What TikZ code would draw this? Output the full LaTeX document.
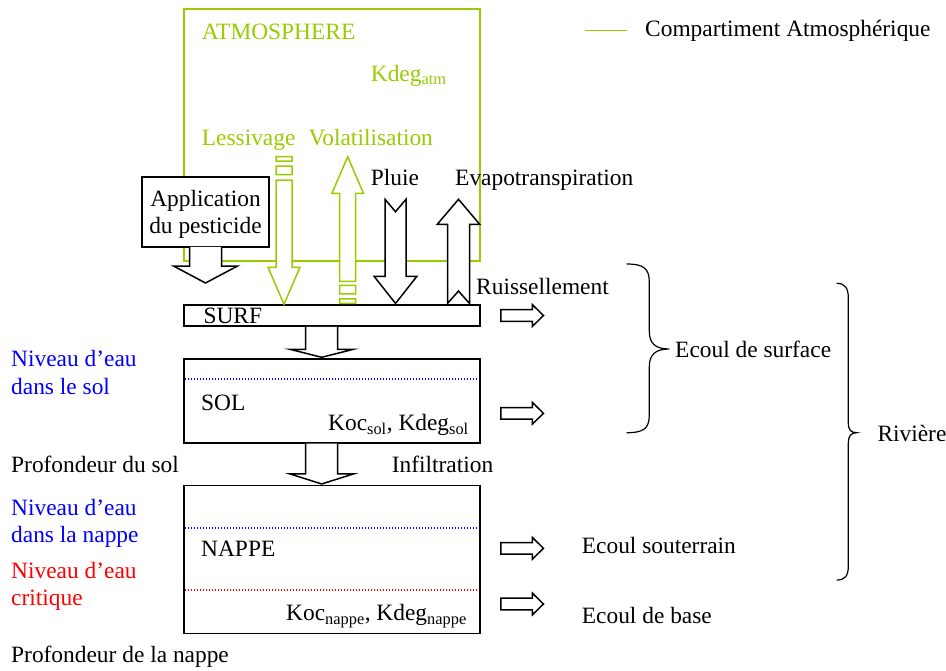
\documentclass[tikz,border=0pt]{standalone}
\usepackage{fontspec}
\setmainfont{Liberation Serif}
\usetikzlibrary{calc}

\definecolor{atmgreen}{RGB}{153,204,0}

\begin{document}
\begin{tikzpicture}[
    x=1pt, y=-1pt,
    every node/.style={font=\fontsize{23.4}{27.7}\selectfont},
    txt/.style={inner sep=0pt, anchor=base west, align=left},
    layer/.style={draw=black, line width=1.5pt, fill=white, minimum width=296pt, inner sep=0pt},
    level/.style={line width=1.3pt, dash pattern=on 1.3pt off 1.7pt},
    brace/.style={draw=black, line width=1.2pt},
    blkdown/.style n args={3}{draw=black, fill=white, line width=1.5pt,
        to path={let \p1=(\tikztostart), \p2=(\tikztotarget) in
            (\x2-#1,\y1) -- (\x2-#1,\y2+#3) -- (\x2-#2,\y2+#3) -- (\x2,\y2)
            -- (\x2+#2,\y2+#3) -- (\x2+#1,\y2+#3) -- (\x2+#1,\y1)}},
    blkright/.style n args={3}{draw=black, fill=white, line width=1.5pt,
        to path={let \p1=(\tikztostart), \p2=(\tikztotarget) in
            (\x1,\y2-#1) -- (\x2-#3,\y2-#1) -- (\x2-#3,\y2-#2) -- (\x2,\y2)
            -- (\x2-#3,\y2+#2) -- (\x2-#3,\y2+#1) -- (\x1,\y2+#1) -- cycle}},
    notchdown/.style n args={4}{draw=black, fill=white, line width=1.5pt,
        to path={let \p1=(\tikztostart), \p2=(\tikztotarget) in
            (\x2+#1,\y1) -- (\x2,\y1-#4) -- (\x2-#1,\y1) -- (\x2-#1,\y2+#3) -- (\x2-#2,\y2+#3)
            -- (\x2,\y2) -- (\x2+#2,\y2+#3) -- (\x2+#1,\y2+#3) -- cycle}},
    notchup/.style n args={4}{draw=black, fill=white, line width=1.5pt,
        to path={let \p1=(\tikztostart), \p2=(\tikztotarget) in
            (\x2-#1,\y1) -- (\x2,\y1+#4) -- (\x2+#1,\y1) -- (\x2+#1,\y2-#3) -- (\x2+#2,\y2-#3)
            -- (\x2,\y2) -- (\x2-#2,\y2-#3) -- (\x2-#1,\y2-#3) -- cycle}},
    stripedown/.style n args={3}{draw=atmgreen, fill=white, line width=1.5pt,
        to path={let \p1=(\tikztostart), \p2=(\tikztotarget) in
            (\x2-#1,\y1) rectangle (\x2+#1,\y1-4.5pt)
            (\x2-#1,\y1-9.5pt) rectangle (\x2+#1,\y1-18pt)
            (\x2-#1,\y1-23.5pt) -- (\x2-#1,\y2+#3) -- (\x2-#2,\y2+#3) -- (\x2,\y2)
            -- (\x2+#2,\y2+#3) -- (\x2+#1,\y2+#3) -- (\x2+#1,\y1-23.5pt) -- cycle}},
    stripeup/.style n args={3}{draw=atmgreen, fill=white, line width=1.5pt,
        to path={let \p1=(\tikztostart), \p2=(\tikztotarget) in
            (\x2-#1,\y1) rectangle (\x2+#1,\y1+4.5pt)
            (\x2-#1,\y1+9.5pt) rectangle (\x2+#1,\y1+18pt)
            (\x2-#1,\y1+22pt) -- (\x2-#1,\y2-#3) -- (\x2-#2,\y2-#3) -- (\x2,\y2)
            -- (\x2+#2,\y2-#3) -- (\x2+#1,\y2-#3) -- (\x2+#1,\y1+22pt) -- cycle}}
]

\useasboundingbox (0,0) rectangle (946,670);

%%%%%%%%%%%%%%%%%%%%%
% Atmosphere compartment
%%%%%%%%%%%%%%%%%%%%%
\node[draw=atmgreen, line width=1.5pt, minimum width=296pt, minimum height=252pt, inner sep=0pt]
    (atmo) at (332,135) {};
\node[txt, text=atmgreen] (atmolbl) at (201.7,39) {ATMOSPHERE};
\node[txt, text=atmgreen] (kdegatm) at (370.7,81) {Kdeg\textsubscript{atm}};
\node[txt, text=atmgreen] (lessiv) at (201.7,145) {Lessivage};
\node[txt, text=atmgreen] (volat) at (308.3,145) {Volatilisation};

% legend
\node[txt] (legend) at (645,36) {Compartiment Atmosphérique};
\draw[atmgreen, line width=1.3pt] ([xshift=-60pt]legend.west) -- ([xshift=-18pt]legend.west);

%%%%%%%%%%%%%%%%%%%%%
% Layers
%%%%%%%%%%%%%%%%%%%%%
\node[layer, minimum height=21pt] (surf) at (332,315.5) {};
\node[layer, minimum height=83.7pt] (sol) at (332,400.9) {};
\node[layer, minimum height=148pt] (nappe) at (332,559.7) {};

\node[txt] (surflbl) at (203.3,323.3) {SURF};
\node[txt] (sollbl) at (201,410) {SOL};
\node[txt] (solpar) at (328,430.7) {Koc\textsubscript{sol}, Kdeg\textsubscript{sol}};
\node[txt] (nappelbl) at (201,556.7) {NAPPE};
\node[txt] (nappepar) at (286,620.7) {Koc\textsubscript{nappe}, Kdeg\textsubscript{nappe}};

% water levels
\draw[level, blue] ([shift={(1.5pt,-20.7pt)}]sol.north west) -- ([shift={(-2pt,-20.7pt)}]sol.north east);
\draw[level, blue] ([shift={(1.5pt,-43.05pt)}]nappe.north west) -- ([shift={(-2pt,-43.05pt)}]nappe.north east);
\draw[level, red] ([shift={(1.5pt,-105.05pt)}]nappe.north west) -- ([shift={(-2pt,-105.05pt)}]nappe.north east);

%%%%%%%%%%%%%%%%%%%%%
% Inputs to the surface
%%%%%%%%%%%%%%%%%%%%%
\node[draw=black, fill=white, line width=1.5pt, minimum width=127pt, minimum height=70pt,
    inner sep=0pt, align=center, text depth=0pt] (appli) at (205.5,212) {Application\\du pesticide};
\coordinate (apptip) at (205.5,283);
\draw[blkdown={16pt}{32pt}{17pt}] ([yshift=0.8pt]appli.south) to (apptip);

\coordinate (lesstop) at (284,156.7);
\draw[stripedown={8pt}{16pt}{37pt}] (lesstop) to (lesstop |- surf.north);

\coordinate (voltip) at (347.7,156.7);
\draw[stripeup={8pt}{15.8pt}{36.7pt}] ([yshift=1pt]voltip |- surf.north) to (voltip);

\coordinate (pluietop) at (395.5,199.3);
\draw[notchdown={10.5pt}{21.3pt}{27pt}{12.4pt}] (pluietop) to ([yshift=0.8pt]pluietop |- surf.north);
\node[txt] (pluie) at (370.7,185) {Pluie};

\coordinate (evaptip) at (458.5,199.3);
\draw[notchup={11pt}{21.2pt}{25pt}{12.4pt}] ([yshift=0.8pt]evaptip |- surf.north) to (evaptip);
\node[txt] (evap) at (455,185) {Evapotranspiration};

%%%%%%%%%%%%%%%%%%%%%
% Vertical transfers
%%%%%%%%%%%%%%%%%%%%%
\coordinate (flowx) at (321.7,0);
\draw[blkdown={16pt}{31.7pt}{8pt}] (surf.south -| flowx) to ([yshift=1pt]sol.north -| flowx);
\draw[blkdown={16pt}{31.7pt}{10pt}] (sol.south -| flowx) to ([yshift=1pt]nappe.north -| flowx);
\node[txt] (infil) at (391.7,472.7) {Infiltration};

%%%%%%%%%%%%%%%%%%%%%
% Lateral flows to the river
%%%%%%%%%%%%%%%%%%%%%
\draw[blkright={5.8pt}{10.8pt}{11pt}] ([xshift=20pt]surf.east) to ([xshift=62.7pt]surf.east);
\draw[blkright={5.8pt}{10.8pt}{11pt}] ([shift={(20pt,-12.4pt)}]sol.east) to ([shift={(62.7pt,-12.4pt)}]sol.east);
\draw[blkright={5.8pt}{10.8pt}{11pt}] ([shift={(20pt,11.4pt)}]nappe.east) to ([shift={(62.7pt,11.4pt)}]nappe.east);
\draw[blkright={5.8pt}{10.8pt}{11pt}] ([shift={(20pt,-44.3pt)}]nappe.east) to ([shift={(62.7pt,-44.3pt)}]nappe.east);

\node[txt] (ruiss) at (476,294) {Ruissellement};
\node[txt] (souterr) at (581.7,553.3) {Ecoul souterrain};
\node[txt] (base) at (581.7,623.3) {Ecoul de base};

% braces
\draw[brace] (626.7,264) .. controls (643,264) and (649.3,268) .. (649.3,282) -- (649.3,331)
    .. controls (649.3,344) and (656,349) .. (669.3,349)
    .. controls (656,349) and (649.3,354) .. (649.3,367) -- (649.3,415)
    .. controls (649.3,429) and (643,432.7) .. (626.7,432.7);
\node[txt] (ecsurf) at (675,357.7) {Ecoul de surface};

\draw[brace] (836.7,283.3) .. controls (845,283.3) and (848.3,288) .. (848.3,298) -- (848.3,423)
    .. controls (848.3,430) and (851,432.7) .. (856.7,432.7)
    .. controls (851,432.7) and (848.3,436) .. (848.3,443) -- (848.3,566)
    .. controls (848.3,576) and (845,580) .. (836.7,580);
\node[txt] (riviere) at (877.3,441) {Rivière};

%%%%%%%%%%%%%%%%%%%%%
% Left annotations
%%%%%%%%%%%%%%%%%%%%%
\node[txt, text=blue] (nivsol) at (11,394.3) {Niveau d'eau\\dans le sol};
\node[txt] (profsol) at (11,472.7) {Profondeur du sol};
\node[txt, text=blue] (nivnappe) at (11,542.7) {Niveau d'eau\\dans la nappe};
\node[txt, text=red] (nivcrit) at (11,605.7) {Niveau d'eau\\critique};
\node[txt] (profnappe) at (11,662.7) {Profondeur de la nappe};

\end{tikzpicture}
\end{document}
